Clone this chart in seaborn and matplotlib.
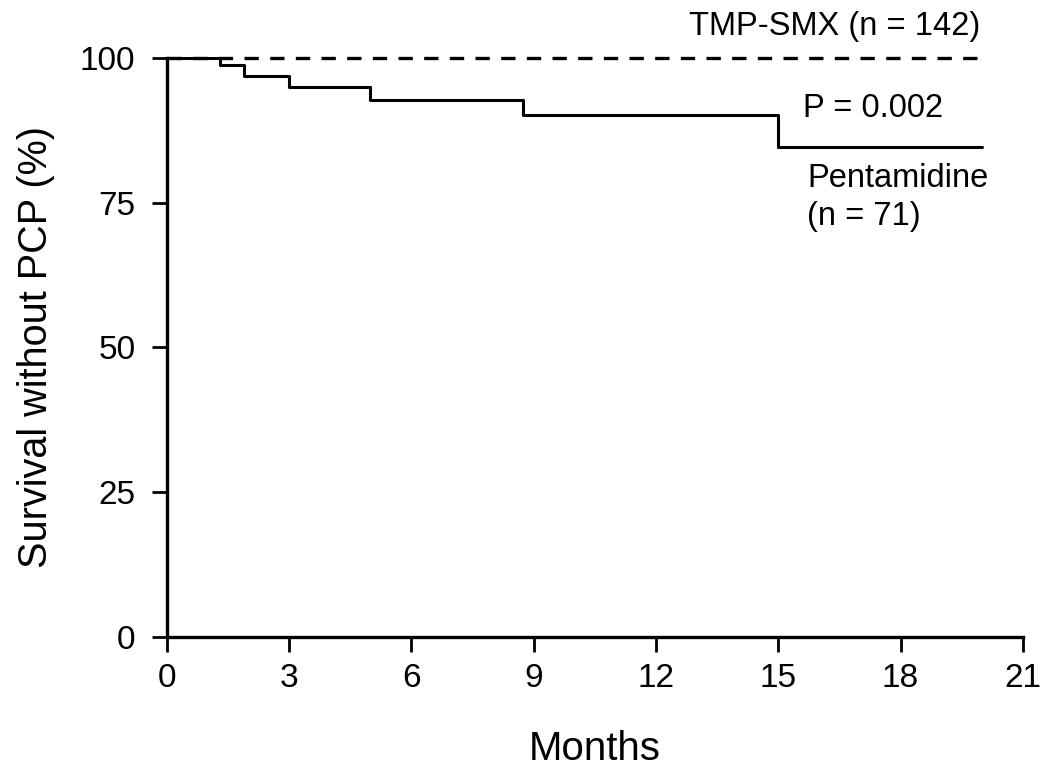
import matplotlib
matplotlib.use("Agg")
import matplotlib.pyplot as plt
import seaborn as sns
import pandas as pd

# Data
pent_months = [0, 1.3, 1.9, 3.0, 5.0, 8.75, 15.0, 20.0]
pent_surv = [100, 98.8, 96.8, 95.0, 92.7, 90.2, 84.6, 84.6]
tmp_months = [0, 19.9]
tmp_surv = [100, 100]
x_ticks = [0, 3, 6, 9, 12, 15, 18, 21]
y_ticks = [0, 25, 50, 75, 100]

sns.set_theme(style="ticks")
plt.rcParams['font.family'] = ['Liberation Sans', 'DejaVu Sans']
plt.rcParams['text.color'] = 'black'
plt.rcParams['axes.labelcolor'] = 'black'

df = pd.concat([
    pd.DataFrame({"Months": pent_months, "Surv": pent_surv, "Group": "Pentamidine"}),
    pd.DataFrame({"Months": tmp_months, "Surv": tmp_surv, "Group": "TMP-SMX"}),
])

fig = plt.figure(figsize=(10.48, 7.71), dpi=100)
ax = fig.add_axes([0.159, 0.174, 0.817, 0.751])

sns.lineplot(data=df[df.Group == "TMP-SMX"], x="Months", y="Surv", ax=ax,
             color="black", linewidth=2.4, linestyle=(0, (4.3, 3.4)),
             drawstyle="steps-post", clip_on=False, legend=False)
sns.lineplot(data=df[df.Group == "Pentamidine"], x="Months", y="Surv", ax=ax,
             color="black", linewidth=2.2, drawstyle="steps-post",
             clip_on=False, legend=False)

ax.set_xlim(0, 21)
ax.set_ylim(0, 100)
ax.set_xticks(x_ticks)
ax.set_yticks(y_ticks)
ax.tick_params(axis='both', labelsize=24, length=10.5, width=2, colors='black')
ax.tick_params(axis='y', pad=12)
ax.tick_params(axis='x', pad=8)
for s in ["top", "right"]:
    ax.spines[s].set_visible(False)
for s in ["left", "bottom"]:
    ax.spines[s].set_linewidth(2.4)
    ax.spines[s].set_color("black")

ax.set_xlabel("Months", fontsize=29, labelpad=26)
ax.set_ylabel("Survival without PCP (%)", fontsize=28.5, labelpad=18)

ax.text(0.950, 1.040, "TMP-SMX (n = 142)", transform=ax.transAxes, ha="right",
        va="baseline", fontsize=23.5)
ax.text(0.743, 0.898, "P = 0.002", transform=ax.transAxes, ha="left",
        va="baseline", fontsize=23.5)
ax.text(0.748, 0.777, "Pentamidine", transform=ax.transAxes, ha="left",
        va="baseline", fontsize=23.5)
ax.text(0.748, 0.712, "(n = 71)", transform=ax.transAxes, ha="left",
        va="baseline", fontsize=23.5)

fig.savefig("out.png", dpi=100)
